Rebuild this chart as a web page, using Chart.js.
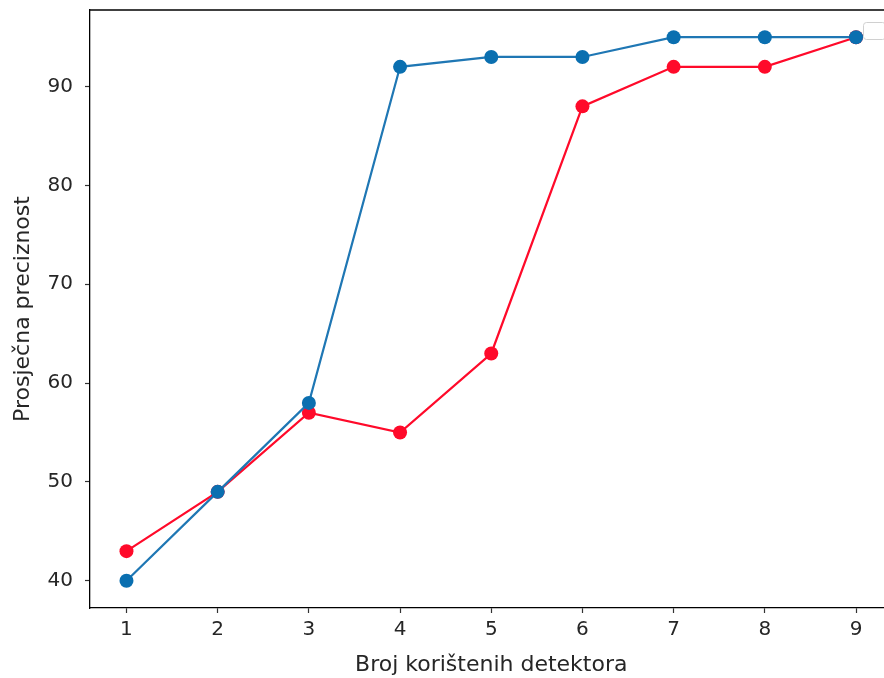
<!DOCTYPE html>
<html>
<head>
    <title>Prosječna preciznost</title>
    <script src="https://cdn.jsdelivr.net/npm/chart.js"></script>
    <style>
        html, body {
            margin: 0;
            padding: 0;
            background: #ffffff;
            overflow: hidden;
        }

        .chart-container {
            position: relative;
            width: 900px;
            height: 678px;
        }
    </style>
</head>
<body>
<div class="chart-container">
    <canvas id="precisionChart"></canvas>
</div>

<script>
    // broj detektora
    const detectorCounts = [1, 2, 3, 4, 5, 6, 7, 8, 9];
    // prva serija (plava)
    const blueSeries = [40, 49, 58, 92, 93, 93, 95, 95, 95];
    // druga serija (crvena)
    const redSeries = [43, 49, 57, 55, 63, 88, 92, 92, 95];
    const yTickValues = [40, 50, 60, 70, 80, 90];

    const blueColor = '#1f77b4';
    const redColor = '#ff0a2a';
    const textColor = '#262626';

    // top spine + empty legend box like matplotlib
    const framePlugin = {
        id: 'frame',
        afterDraw(chart) {
            const ctx = chart.ctx;
            const area = chart.chartArea;
            ctx.save();
            ctx.strokeStyle = '#000';
            ctx.lineWidth = 1.3;
            ctx.beginPath();
            ctx.moveTo(area.left, area.top);
            ctx.lineTo(area.right, area.top);
            ctx.stroke();

            // empty legend frame
            ctx.strokeStyle = '#d0d0d0';
            ctx.lineWidth = 1;
            ctx.fillStyle = 'rgba(255,255,255,0.8)';
            ctx.beginPath();
            ctx.roundRect(863.5, 22.5, 22, 17, 3);
            ctx.fill();
            ctx.stroke();
            ctx.restore();
        }
    };

    const toPoints = (values) => values.map((v, i) => ({x: detectorCounts[i], y: v}));

    new Chart(document.getElementById('precisionChart').getContext('2d'), {
        type: 'line',
        data: {
            datasets: [{
                label: 'plava',
                data: toPoints(blueSeries),
                borderColor: blueColor,
                backgroundColor: blueColor,
                pointBackgroundColor: '#0a6fb0',
                pointBorderColor: '#0a6fb0',
                borderWidth: 2.2,
                pointRadius: 7,
                pointBorderWidth: 0,
                fill: false,
                tension: 0
            }, {
                label: 'crvena',
                data: toPoints(redSeries),
                borderColor: redColor,
                backgroundColor: redColor,
                pointBackgroundColor: redColor,
                pointBorderColor: redColor,
                borderWidth: 2.2,
                pointRadius: 7,
                pointBorderWidth: 0,
                fill: false,
                tension: 0
            }]
        },
        options: {
            responsive: true,
            maintainAspectRatio: false,
            animation: false,
            layout: {
                padding: {top: 10, right: 7.5, left: 0, bottom: 0}
            },
            plugins: {
                legend: {display: false},
                tooltip: {enabled: false}
            },
            scales: {
                x: {
                    type: 'linear',
                    min: 0.6,
                    max: 9.4,
                    afterBuildTicks: (scale) => {
                        scale.ticks = detectorCounts.map(v => ({value: v}));
                    },
                    afterFit: (scale) => {
                        scale.height = 70;
                        scale.paddingLeft = 0;
                        scale.paddingRight = 0;
                    },
                    grid: {
                        drawOnChartArea: false,
                        drawTicks: true,
                        tickLength: 5,
                        tickWidth: 1.2,
                        color: '#333'
                    },
                    border: {display: true, color: '#000', width: 1.3},
                    ticks: {
                        color: textColor,
                        font: {family: 'DejaVu Sans', size: 20},
                        padding: 5,
                        maxRotation: 0
                    },
                    title: {
                        display: true,
                        text: 'Broj korištenih detektora',
                        color: textColor,
                        font: {family: 'DejaVu Sans', size: 22},
                        padding: {top: 0, bottom: 0}
                    }
                },
                y: {
                    type: 'linear',
                    min: 37.25,
                    max: 97.75,
                    afterBuildTicks: (scale) => {
                        scale.ticks = yTickValues.map(v => ({value: v}));
                    },
                    afterFit: (scale) => {
                        scale.width = 90;
                        scale.paddingTop = 0;
                        scale.paddingBottom = 0;
                    },
                    grid: {
                        drawOnChartArea: false,
                        drawTicks: true,
                        tickLength: 5,
                        tickWidth: 1.2,
                        color: '#333'
                    },
                    border: {display: true, color: '#000', width: 1.3},
                    ticks: {
                        color: textColor,
                        font: {family: 'DejaVu Sans', size: 20},
                        padding: 12
                    },
                    title: {
                        display: true,
                        text: 'Prosječna preciznost',
                        color: textColor,
                        font: {family: 'DejaVu Sans', size: 22},
                        padding: {top: 10, bottom: 0}
                    }
                }
            }
        },
        plugins: [framePlugin]
    });
</script>
</body>
</html>
